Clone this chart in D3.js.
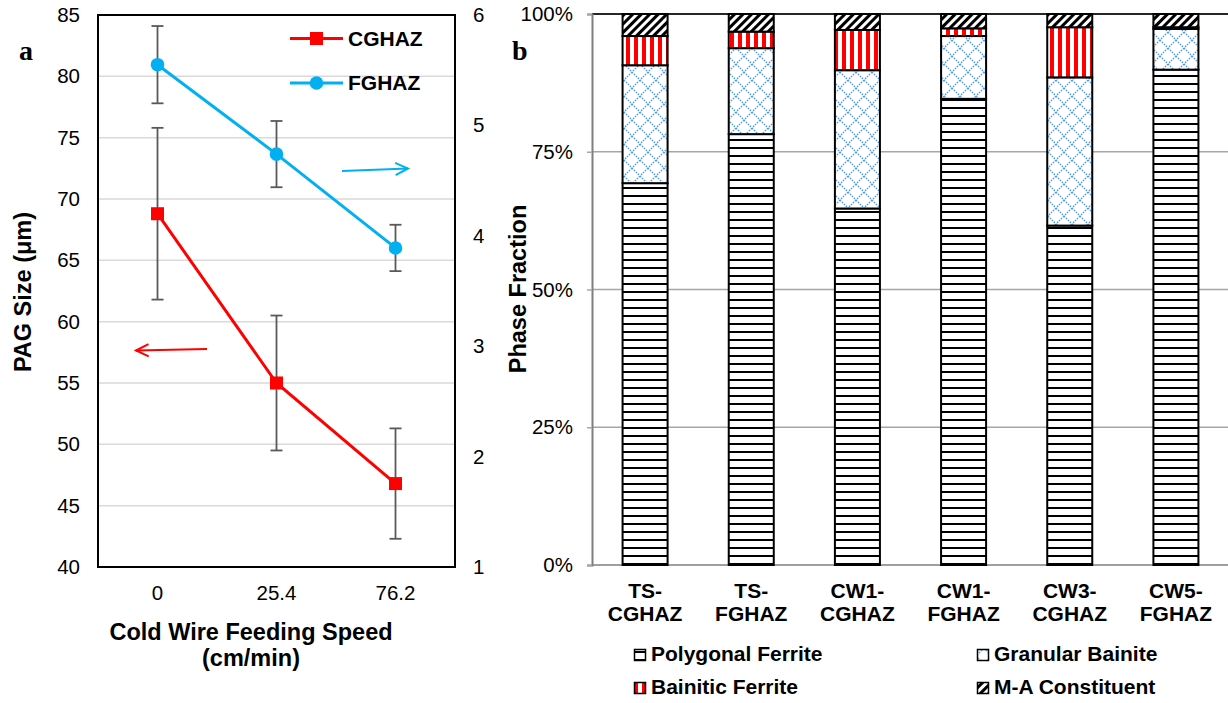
<!DOCTYPE html>
<html><head><meta charset="utf-8">
<script src="https://cdn.jsdelivr.net/npm/d3@7"></script>
<style>body{margin:0;background:#fff}svg{display:block}</style>
</head><body>
<script>
// ---- Panel a data ----
const speeds = ["0", "25.4", "76.2"];
const cghaz = [68.8, 55.0, 46.8];
const cghazErr = [7.0, 5.5, 4.5];
const fghaz = [5.55, 4.74, 3.89];
const fghazErr = [0.35, 0.30, 0.21];
const leftTicks = [40, 45, 50, 55, 60, 65, 70, 75, 80, 85];
const rightTicks = [1, 2, 3, 4, 5, 6];

// ---- Panel b data ----
const samples = ["TS-|CGHAZ", "TS-|FGHAZ", "CW1-|CGHAZ", "CW1-|FGHAZ", "CW3-|CGHAZ", "CW5-|FGHAZ"];
const phases = ["Polygonal Ferrite", "Granular Bainite", "Bainitic Ferrite", "M-A Constituent"];
const polygonalFerrite = [69.3, 78.2, 64.7, 84.6, 61.6, 89.9];
const granularBainite = [21.4, 15.6, 25.1, 11.4, 26.9, 7.4];
const bainiticFerrite = [5.3, 3.0, 7.3, 1.4, 9.1, 0.3];
const maConstituent = [4.0, 3.2, 2.9, 2.6, 2.4, 2.4];
const pctTicks = [0, 25, 50, 75, 100];

const W = 1228, H = 703;
const FONT = "'Liberation Sans', Arial, sans-serif";
const SERIF = "'Liberation Serif', 'Times New Roman', serif";
const TICK = "20.5px", TITLE = "23.5px", LEG = "21px";
const svg = d3.select("body").append("svg").attr("width", W).attr("height", H)
  .style("font-family", FONT);

// ---------- patterns ----------
const defs = svg.append("defs");
let p = defs.append("pattern").attr("id", "pf").attr("patternUnits", "userSpaceOnUse")
  .attr("width", 8).attr("height", 8);
p.append("rect").attr("width", 8).attr("height", 8).attr("fill", "#fff");
p.append("rect").attr("y", 3).attr("width", 8).attr("height", 2).attr("fill", "#000");
p = defs.append("pattern").attr("id", "gb").attr("patternUnits", "userSpaceOnUse")
  .attr("width", 16).attr("height", 16);
p.append("rect").attr("width", 16).attr("height", 16).attr("fill", "#fff");
p.append("path").attr("d", "M0,0L16,16M16,0L0,16M-1,15L1,17M15,-1L17,1")
  .attr("stroke", "#5B9BD5").attr("stroke-width", 1.4).attr("stroke-dasharray", "1.6 1.2");
p = defs.append("pattern").attr("id", "bf").attr("patternUnits", "userSpaceOnUse")
  .attr("width", 8).attr("height", 8);
p.append("rect").attr("width", 8).attr("height", 8).attr("fill", "#fff");
p.append("rect").attr("x", 2).attr("width", 4).attr("height", 8).attr("fill", "#FF0000");
p = defs.append("pattern").attr("id", "ma").attr("patternUnits", "userSpaceOnUse")
  .attr("width", 6).attr("height", 6).attr("patternTransform", "rotate(45)");
p.append("rect").attr("width", 6).attr("height", 6).attr("fill", "#fff");
p.append("rect").attr("width", 3).attr("height", 6).attr("fill", "#000");
const patIds = ["pf", "gb", "bf", "ma"];

// ---------- Panel a ----------
const aL = 98, aR = 455, aT = 15, aB = 567;
const x = d3.scaleBand().domain(speeds).range([aL, aR]);
const yL = d3.scaleLinear().domain([40, 85]).range([aB, aT]);
const yR = d3.scaleLinear().domain([1, 6]).range([aB, aT]);
const ga = svg.append("g");

ga.append("g").selectAll("line").data(leftTicks.slice(1, -1)).join("line")
  .attr("x1", aL).attr("x2", aR).attr("y1", d => yL(d)).attr("y2", d => yL(d))
  .attr("stroke", "#D9D9D9").attr("stroke-width", 1.5);

function styleAxis(g) {
  g.select(".domain").remove();
  g.selectAll("text").style("font-family", FONT).style("font-size", TICK).attr("fill", "#000");
}
ga.append("g").attr("transform", `translate(${aL},0)`)
  .call(d3.axisLeft(yL).tickValues(leftTicks).tickSize(0).tickPadding(18)).call(styleAxis);
ga.append("g").attr("transform", `translate(${aR},0)`)
  .call(d3.axisRight(yR).tickValues(rightTicks).tickFormat(d3.format("d")).tickSize(0).tickPadding(18)).call(styleAxis);
ga.append("g").attr("transform", `translate(0,${aB})`)
  .call(d3.axisBottom(x).tickSize(0).tickPadding(18)).call(styleAxis);

ga.append("rect").attr("x", aL).attr("y", aT).attr("width", aR - aL).attr("height", aB - aT)
  .attr("fill", "none").attr("stroke", "#000").attr("stroke-width", 2);

const cx = d => x(d) + x.bandwidth() / 2;
function errBars(vals, errs, scale) {
  const g = ga.append("g").attr("stroke", "#595959").attr("stroke-width", 1.8);
  vals.forEach((v, i) => {
    const X = cx(speeds[i]);
    g.append("line").attr("x1", X).attr("x2", X).attr("y1", scale(v + errs[i])).attr("y2", scale(v - errs[i]));
    [v + errs[i], v - errs[i]].forEach(e =>
      g.append("line").attr("x1", X - 6).attr("x2", X + 6).attr("y1", scale(e)).attr("y2", scale(e)));
  });
}
errBars(cghaz, cghazErr, yL);
errBars(fghaz, fghazErr, yR);

const lineL = d3.line().x((d, i) => cx(speeds[i])).y(d => yL(d));
const lineR = d3.line().x((d, i) => cx(speeds[i])).y(d => yR(d));
ga.append("path").attr("d", lineL(cghaz)).attr("fill", "none").attr("stroke", "#FF0000").attr("stroke-width", 3);
ga.append("path").attr("d", lineR(fghaz)).attr("fill", "none").attr("stroke", "#00B0F0").attr("stroke-width", 3);
ga.selectAll(".sq").data(cghaz).join("rect")
  .attr("x", (d, i) => cx(speeds[i]) - 6.5).attr("y", d => yL(d) - 6.5)
  .attr("width", 13).attr("height", 13).attr("fill", "#FF0000");
ga.selectAll(".ci").data(fghaz).join("circle")
  .attr("cx", (d, i) => cx(speeds[i])).attr("cy", d => yR(d)).attr("r", 6.8).attr("fill", "#00B0F0");

[["CGHAZ", "#FF0000", "sq", 38.5], ["FGHAZ", "#00B0F0", "ci", 83]].forEach(([t, c, m, yy]) => {
  ga.append("line").attr("x1", 290).attr("x2", 343).attr("y1", yy).attr("y2", yy)
    .attr("stroke", c).attr("stroke-width", 3);
  if (m === "sq") ga.append("rect").attr("x", 310).attr("y", yy - 6.5).attr("width", 13).attr("height", 13).attr("fill", c);
  else ga.append("circle").attr("cx", 316.5).attr("cy", yy).attr("r", 6.8).attr("fill", c);
  ga.append("text").attr("x", 348).attr("y", yy + 7.2)
    .style("font-size", LEG).style("font-weight", "bold").text(t);
});

function arrow(x1, y1, x2, y2, c) {
  ga.append("line").attr("x1", x1).attr("y1", y1).attr("x2", x2).attr("y2", y2)
    .attr("stroke", c).attr("stroke-width", 2);
  const ang = Math.atan2(y2 - y1, x2 - x1);
  const L = 14, A = 0.45;
  const pth = `M${x2 - L * Math.cos(ang - A)},${y2 - L * Math.sin(ang - A)}L${x2},${y2}L${x2 - L * Math.cos(ang + A)},${y2 - L * Math.sin(ang + A)}`;
  ga.append("path").attr("d", pth).attr("fill", "none").attr("stroke", c).attr("stroke-width", 2);
}
arrow(342, 171, 408, 168.5, "#00B0F0");
arrow(207, 349, 136, 350.5, "#FF0000");

ga.append("text").attr("transform", "translate(23,292) rotate(-90)").attr("text-anchor", "middle")
  .attr("dy", "0.35em").style("font-size", TITLE).style("font-weight", "bold").text("PAG Size (μm)");
ga.append("text").attr("x", 251).attr("y", 640).attr("text-anchor", "middle")
  .style("font-size", TITLE).style("font-weight", "bold").text("Cold Wire Feeding Speed");
ga.append("text").attr("x", 251).attr("y", 666).attr("text-anchor", "middle")
  .style("font-size", TITLE).style("font-weight", "bold").text("(cm/min)");
ga.append("text").attr("x", 19).attr("y", 60).style("font-family", SERIF)
  .style("font-size", "28px").style("font-weight", "bold").text("a");

// ---------- Panel b ----------
const bL = 592, bR = 1229, bT = 14, bB = 565;
const xb = d3.scaleBand().domain(samples).range([bL, bR]).paddingInner(0.576).paddingOuter(0.288);
const yb = d3.scaleLinear().domain([0, 100]).range([bB, bT]);
const gb = svg.append("g");
gb.append("text").attr("x", 512).attr("y", 60).style("font-family", SERIF)
  .style("font-size", "28px").style("font-weight", "bold").text("b");

gb.append("g").selectAll("line").data(pctTicks.slice(1)).join("line")
  .attr("x1", bL).attr("x2", bR).attr("y1", d => yb(d)).attr("y2", d => yb(d))
  .attr("stroke", d => d === 100 ? "#262626" : "#A6A6A6").attr("stroke-width", d => d === 100 ? 2.2 : 1.5);

const axBL = gb.append("g").attr("transform", `translate(${bL},0)`)
  .call(d3.axisLeft(yb).tickValues(pctTicks).tickFormat(d => d + "%").tickSize(5).tickPadding(14));
axBL.select(".domain").attr("stroke", "#7F7F7F").attr("stroke-width", 2);
axBL.selectAll(".tick line").attr("stroke", "#A6A6A6").attr("stroke-width", 1.5);
axBL.selectAll("text").style("font-family", FONT).style("font-size", TICK).attr("fill", "#000");
gb.append("line").attr("x1", bL).attr("x2", bR).attr("y1", bB).attr("y2", bB).attr("stroke", "#7F7F7F").attr("stroke-width", 1.5);

const series = [polygonalFerrite, granularBainite, bainiticFerrite, maConstituent];
const rows = samples.map((s, i) => {
  const o = { sample: s };
  phases.forEach((ph, j) => o[ph] = series[j][i]);
  return o;
});
const stacked = d3.stack().keys(phases)(rows);
stacked.forEach((layer, j) => {
  gb.append("g").selectAll("rect").data(layer).join("rect")
    .attr("x", d => xb(d.data.sample)).attr("width", xb.bandwidth())
    .attr("y", d => yb(d[1])).attr("height", d => Math.max(0, yb(d[0]) - yb(d[1])))
    .attr("fill", `url(#${patIds[j]})`).attr("stroke", "#000").attr("stroke-width", 2);
});

samples.forEach(s => {
  const parts = s.split("|");
  const X = xb(s) + xb.bandwidth() / 2;
  parts.forEach((t, k) => gb.append("text").attr("x", X).attr("y", 598 + k * 23).attr("text-anchor", "middle")
    .style("font-size", LEG).style("font-weight", "bold").text(t));
});

gb.append("text").attr("transform", "translate(518,289) rotate(-90)").attr("text-anchor", "middle")
  .attr("dy", "0.35em").style("font-size", TITLE).style("font-weight", "bold").text("Phase Fraction");

const legPos = [[634, 661], [977, 661], [634, 694], [977, 694]];
phases.forEach((ph, j) => {
  const [lx, ly] = legPos[j];
  gb.append("rect").attr("x", lx + 0.5).attr("y", ly - 11.5).attr("width", 11).attr("height", 11)
    .attr("fill", `url(#${patIds[j]})`).attr("stroke", "#000").attr("stroke-width", 1.5);
  gb.append("text").attr("x", lx + 17).attr("y", ly)
    .style("font-size", LEG).style("font-weight", "bold").text(ph);
});
</script>
</body></html>
